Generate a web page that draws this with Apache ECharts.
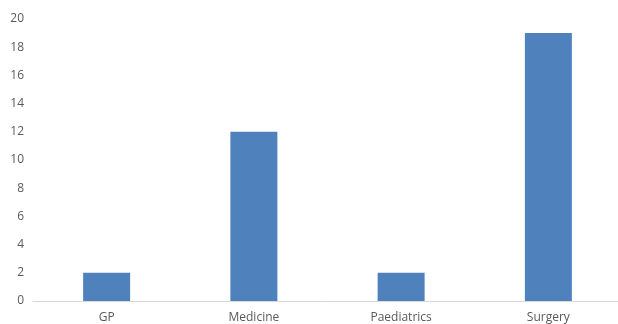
<!DOCTYPE html>
<html>
<head>
<meta charset="utf-8">
<script src="https://cdn.jsdelivr.net/npm/echarts@6/dist/echarts.min.js"></script>
<style>
  html, body { margin: 0; padding: 0; background: #fff; overflow: hidden; }
  /* 绘图区在原图中略超出右边界，所以容器比窗口宽一点 */
  #chart { width: 622px; height: 324px; }
</style>
</head>
<body>
<div id="chart"></div>
<script>
// 科室分类及数值
const categories = ['GP', 'Medicine', 'Paediatrics', 'Surgery']
const values = [2, 12, 2, 19]

const chart = echarts.init(document.getElementById('chart'))
chart.setOption({
  animation: false,
  grid: {
    left: 33,
    right: 0,
    top: 19,
    bottom: 22.5
  },
  xAxis: {
    type: 'category',
    data: categories,
    axisLine: { lineStyle: { color: '#d9d9d9', width: 1 } },
    axisTick: { show: false },
    axisLabel: {
      color: '#595959',
      fontSize: 12,
      fontFamily: 'Open Sans',
      margin: 11
    }
  },
  yAxis: {
    type: 'value',
    min: 0,
    max: 20,
    interval: 2,
    splitLine: { show: false },
    axisLine: { show: false },
    axisTick: { show: false },
    axisLabel: {
      color: '#595959',
      fontSize: 12,
      fontFamily: 'Open Sans',
      margin: 9
    }
  },
  series: [
    {
      type: 'bar',
      data: values,
      barWidth: 47,
      itemStyle: { color: '#4f81bd' }
    }
  ]
})
</script>
</body>
</html>
